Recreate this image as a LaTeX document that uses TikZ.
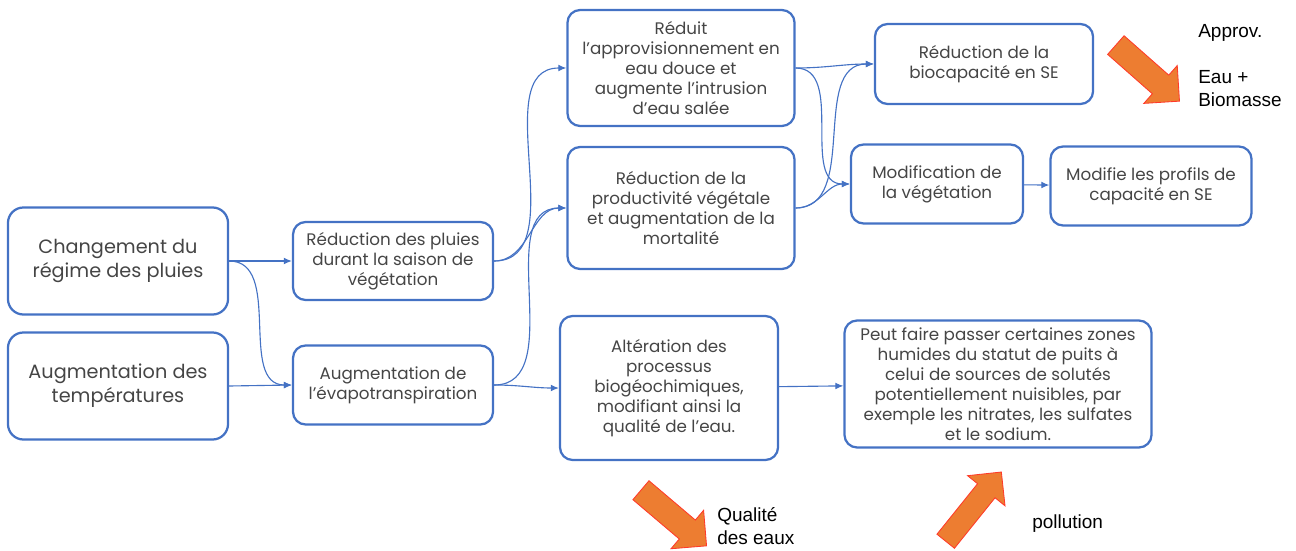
\documentclass[tikz,border=0pt]{standalone}
\usepackage{fontspec}
\setmainfont{Poppins}
\newfontfamily\notefont{Liberation Sans}
\usepackage{tikz}
\usetikzlibrary{arrows.meta,shapes.arrows}
\definecolor{boxblue}{HTML}{4472C4}
\definecolor{txtgray}{HTML}{454545}
\definecolor{arrorange}{HTML}{ED7D31}
\definecolor{arrred}{HTML}{FF3A2A}
\tikzset{
  causebox/.style={rectangle, rounded corners=11pt, draw=boxblue, line width=1.6pt, align=center, inner sep=2pt, text=txtgray, font=\fontsize{13.7}{17}\selectfont},
  effbox/.style  ={rectangle, rounded corners=9pt, draw=boxblue, line width=1.6pt, align=center, inner sep=2pt, text=txtgray, font=\fontsize{11.9}{14.3}\selectfont},
  link/.style    ={-{Latex[length=2mm,width=1.7mm]}, draw=boxblue, line width=0.8pt},
  bigarrow/.style={single arrow, draw=arrred, fill=arrorange, line width=0.6pt, inner xsep=0pt, inner ysep=0.3cm, single arrow head extend=0.32cm},
  note/.style    ={anchor=north west, align=left, inner sep=0pt, text=black, font=\notefont\fontsize{13.5}{16.3}\selectfont},
}
\begin{document}
\begin{tikzpicture}[x=0.025cm,y=-0.025cm]
\useasboundingbox (0,0) rectangle (1296,551);
% --- column 1: causes ---
\node[causebox, minimum width=5.5cm, minimum height=2.675cm] (chg)  at (118,261) {Changement du\\régime des pluies};
\node[causebox, minimum width=5.5cm, minimum height=2.675cm] (temp) at (118,386) {Augmentation des\\températures};
% --- column 2 ---
\node[effbox, minimum width=5cm, minimum height=1.95cm] (redpl) at (393,261) {Réduction des pluies\\durant la saison de\\végétation};
\node[effbox, minimum width=5cm, minimum height=1.975cm] (evap) at (393,385) {Augmentation de\\l'évapotranspiration};
% --- column 3 ---
\node[effbox, minimum width=5.675cm, minimum height=2.9cm] (eaudouce) at (681,68) {Réduit\\l'approvisionnement en\\eau douce et\\augmente l'intrusion\\d'eau salée};
\node[effbox, minimum width=5.675cm, minimum height=3.05cm] (prod) at (681,208) {Réduction de la\\productivité végétale\\et augmentation de la\\mortalité};
\node[effbox, minimum width=5.45cm, minimum height=3.6cm] (alter) at (669,388) {Altération des\\processus\\biogéochimiques,\\modifiant ainsi la\\qualité de l'eau.};
% --- column 4 ---
\node[effbox, minimum width=5.45cm, minimum height=2cm] (biocap) at (984,64) {Réduction de la\\biocapacité en SE};
\node[effbox, minimum width=4.3cm, minimum height=1.975cm] (modveg) at (937,184) {Modification de\\la végétation};
\node[effbox, minimum width=5.025cm, minimum height=1.975cm] (profils) at (1151,186) {Modifie les profils de\\capacité en SE};
\node[effbox, minimum width=7.675cm, minimum height=3.175cm] (puits) at (998,384) {Peut faire passer certaines zones\\humides du statut de puits à\\celui de sources de solutés\\potentiellement nuisibles, par\\exemple les nitrates, les sulfates\\et le sodium.};
% --- arrows ---
\draw[link] (chg.east) -- (redpl.west);
\draw[link] (chg.east) to[out=0,in=180] (evap.west);
\draw[link] (temp.east) -- (evap.west);
\foreach \t in {eaudouce,prod} {\draw[link] (redpl.east) to[out=0,in=180] (\t.west);}
\foreach \t in {prod,alter} {\draw[link] (evap.east) to[out=0,in=180] (\t.west);}
\foreach \s in {eaudouce,prod} {
  \foreach \t in {biocap,modveg} {\draw[link] (\s.east) to[out=0,in=180] (\t.west);}
}
\draw[link] (modveg) -- (profils);
\draw[link] (alter) -- (puits);
% --- trend arrows ---
\node[bigarrow, rotate=-41.4, minimum height=2.12cm] (arrEau)  at (1143,69) {};
\node[bigarrow, rotate=-40.3, minimum height=2.15cm] (arrQual) at (669,514) {};
\node[bigarrow, rotate=51.2,  minimum height=2.22cm, inner ysep=0.27cm] (arrPoll) at (970,511) {};
\node[note] (approv) at (1198,24) {Approv.\\[16.3pt]Eau +\\Biomasse};
\node[note] (qual)   at (717,507) {Qualité\\des eaux};
\node[note] (poll)   at (1032,514) {pollution};
\end{tikzpicture}
\end{document}
